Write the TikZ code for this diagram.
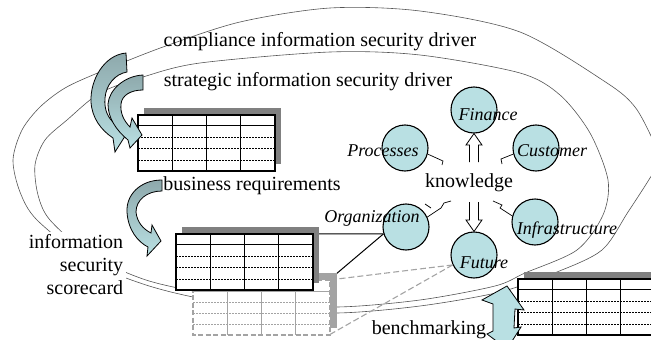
\documentclass[tikz,border=0pt]{standalone}
\usepackage{fontspec}
\setmainfont{Liberation Serif}
\definecolor{topicfill}{HTML}{B9E0E3}
\definecolor{arrowdark}{HTML}{8EA9AC}
\definecolor{shadowgray}{HTML}{808080}
\definecolor{ghostgray}{HTML}{A3A3A3}
\definecolor{ringgray}{HTML}{555555}
\tikzset{
  maintext/.style={font=\rmfamily\fontsize{20}{23}\selectfont, inner sep=1pt},
  topiclabel/.style={font=\rmfamily\fontsize{18}{21}\selectfont\itshape, inner sep=0pt},
  topic/.style={circle, draw=black, line width=1.1pt, fill=topicfill, minimum size=46pt, inner sep=0pt},
  ringline/.style={draw=ringgray, line width=0.6pt},
  boltline/.style={draw=black, line width=0.7pt},
  zoomline/.style={draw=black, line width=1pt},
  ghostline/.style={draw=ghostgray, line width=1.1pt, dash pattern=on 6pt off 3pt},
  hollowarrow/.style={draw=black, fill=white, line width=0.8pt},
  curvedarrow/.style={draw=black, line width=0.8pt, top color=arrowdark, bottom color=topicfill},
  benchfill/.style={draw=black, line width=0.8pt, fill=topicfill},
  datatable/.pic={
    \fill[shadowgray] (6,-7) rectangle (143,49);
    \fill[white] (0,0) rectangle (137,56);
    \foreach \r in {22,33.5,45}
      \draw[black, line width=0.6pt, dash pattern=on 2pt off 1pt] (0,\r) -- (137,\r);
    \draw[black, line width=1.1pt] (0,10.5) -- (137,10.5);
    \foreach \c in {34.25,68.5,102.75}
      \draw[black, line width=1.1pt] (\c,0) -- (\c,56);
    \draw[black, line width=1.3pt] (0,0) rectangle (137,56);
  },
  ghosttable/.pic={
    \fill[ghostgray] (7,-7) rectangle (144,48);
    \fill[white] (0,0) rectangle (137,55);
    \foreach \r in {22,33,44}
      \draw[ghostgray, line width=0.6pt, dash pattern=on 2pt off 1pt] (0,\r) -- (137,\r);
    \draw[ghostgray, line width=1pt] (0,11) -- (137,11);
    \foreach \c in {34.25,68.5,102.75}
      \draw[ghostgray, line width=1pt] (\c,0) -- (\c,55);
    \draw[ghostgray, line width=1.2pt, dash pattern=on 5pt off 2.5pt] (0,0) rectangle (137,55);
  }
}
\begin{document}
\begin{tikzpicture}[x=1pt,y=-1pt]
\useasboundingbox (0,0) rectangle (651,340);
\clip (0,0) rectangle (651,340);

% the two driver rings
\draw[ringline] plot[smooth cycle, tension=0.5] coordinates {
  (37,220) (20,192) (13,160) (22,130) (40,107) (65,88) (100,72) (163,47)
  (240,22) (330,8) (420,11) (520,32) (607,83) (635,107) (653,140) (661,158)
  (650,178) (628,212) (602,250) (557,272) (500,292) (420,306) (337,313)
  (260,308) (193,297) (143,284) (90,262)};
\draw[ringline] plot[smooth cycle, tension=0.5] coordinates {
  (50,220) (38,195) (35,165) (45,140) (67,120) (100,93) (143,77) (200,63)
  (330,52) (420,55) (520,73) (560,95) (590,133) (608,180) (603,215)
  (577,250) (525,273) (495,286) (420,300) (337,307) (260,302) (193,291)
  (143,279) (90,255)};

% knowledge topics
\node[topic] (fin) at (474,110) {};
\node[topic] (cus) at (536,148) {};
\node[topic] (pro) at (405,148) {};
\node[topic] (org) at (406,227) {};
\node[topic] (inf) at (535,222) {};
\node[topic] (fut) at (474,255) {};

% corners of the scorecard tables
\coordinate (sc-ne) at (312,234);
\coordinate (gh-ne) at (329,280);
\coordinate (gh-se) at (329,335);

% zoom lines from Organization and Future
\draw[zoomline] (org.197) -- (sc-ne);
\draw[zoomline] (org.197) -- (gh-ne);
\draw[ghostline] (fut.205) -- (gh-ne);
\draw[ghostline] (fut.205) -- (gh-se);

% tables
\pic at (193,280) {ghosttable};
\pic at (176,234) {datatable};
\pic at (138,115) {datatable};
\pic at (518,279) {datatable};

% texts
\node[maintext] (compl) at (320,42) {compliance information security driver};
\node[maintext] (strat) at (308,82) {strategic information security driver};
\node[maintext] (busreq) at (252,186) {business requirements};
\node[maintext] (bench) at (429,330) {benchmarking};
\node[maintext, fill=white, align=right, inner sep=3pt] (score) at (76,265) {information\\security\\scorecard};
\node[maintext, fill=white] (know) at (469,183) {knowledge};

% lightning connectors between knowledge and the topics
\draw[boltline] (pro.-15) -- (443,161) -- (442,165);
\draw[boltline] (cus.195) -- (501,159) -- (502,164);
\draw[boltline] (425,204) -- (431,208);
\draw[boltline] (org.25) -- (441,208) -- (444,203) -- (451,201);
\draw[boltline] (493,201) -- (502,205) -- (500,208) -- (inf.165);

% hollow arrows to Finance and Future
\draw[hollowarrow] (469.5,162) -- (469.5,145) -- (466,145) -- (fin.south) -- (482,145) -- (478.5,145) -- (478.5,162);
\draw[hollowarrow] (469.5,202) -- (469.5,220) -- (466,220) -- (fut.north) -- (482,220) -- (478.5,220) -- (478.5,202);

% curved arrows into the tables
\shadedraw[curvedarrow] (126,53) .. controls (104,55) and (90,80) .. (91,102)
  .. controls (92,118) and (101,130) .. (113,138) -- (115,152) -- (127,133) -- (117,112)
  -- (115,124) .. controls (108,118) and (104,110) .. (105,98)
  .. controls (106,85) and (115,74) .. (127,72) -- cycle;
\shadedraw[curvedarrow] (143,75) .. controls (124,76) and (109,90) .. (108,104)
  .. controls (108,118) and (116,130) .. (128,140) -- (130,148) -- (142,135) -- (132,118)
  -- (130,127) .. controls (124,121) and (120,113) .. (121,104)
  .. controls (122,95) and (131,90) .. (143,90) -- cycle;
\shadedraw[curvedarrow] (162,180) .. controls (140,180) and (126,195) .. (127,212)
  .. controls (128,230) and (138,242) .. (148,247) -- (147,256) -- (161,241) -- (152,225)
  -- (151,233) .. controls (143,229) and (137,222) .. (136,212)
  .. controls (136,200) and (147,191) .. (162,191) -- cycle;

% benchmarking double arrow
\draw[benchfill] (507,286) -- (524,310) -- (515,309) -- (514,328) -- (521,327)
  -- (507,349) -- (487,334) -- (493,331) -- (493,304) -- (482,300) -- cycle;

% topic labels
\node[topiclabel] (fin-l) at (488,115) {Finance};
\node[topiclabel] (cus-l) at (552,151) {Customer};
\node[topiclabel] (pro-l) at (383,151) {Processes};
\node[topiclabel] (org-l) at (372,218) {Organization};
\node[topiclabel] (inf-l) at (567,230) {Infrastructure};
\node[topiclabel] (fut-l) at (484,263) {Future};
\end{tikzpicture}
\end{document}
